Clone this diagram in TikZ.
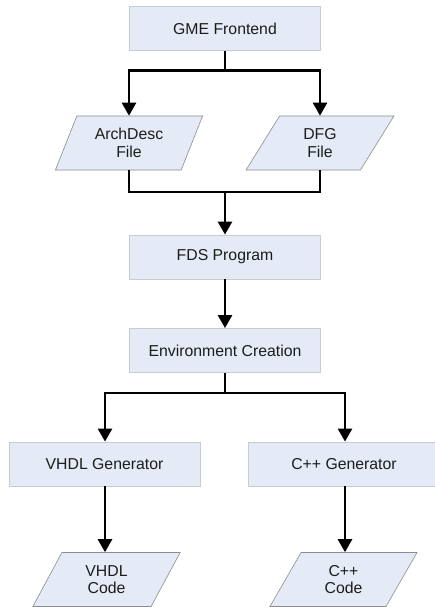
\documentclass[tikz,border=0pt]{standalone}
\usepackage{fontspec}
\setmainfont{Liberation Sans}
\usetikzlibrary{arrows.meta,shapes.geometric}
\definecolor{boxfill}{HTML}{E4EBF6}
\definecolor{edgelight}{HTML}{C8CCD2}
\definecolor{edgedark}{HTML}{8A8C90}
\definecolor{textgray}{HTML}{1C1C1C}
\tikzset{
  procbox/.style={rectangle, fill=boxfill, draw=edgelight, line width=0.8pt,
    minimum width=191pt, minimum height=44pt, inner sep=0pt,
    font=\fontsize{15.8}{18}\selectfont, text=textgray,
    append after command={
      \pgfextra{\let\procname\tikzlastnode}
      [draw=edgedark, line width=0.9pt]
      (\procname.south west) -- (\procname.south east) -- (\procname.north east)
    }},
  datafile/.style={trapezium, trapezium left angle=64.3, trapezium right angle=115.7,
    trapezium stretches=true, fill=boxfill, draw=edgedark, line width=0.6pt,
    minimum width=148pt, minimum height=54pt, inner sep=0pt,
    align=center, font=\fontsize{15.8}{17.5}\selectfont, text=textgray},
  flow/.style={line width=2.5pt, draw=black},
  flowarrow/.style={flow, -{Triangle[width=14pt,length=13pt]}}
}
\begin{document}
\begin{tikzpicture}[x=1pt, y=-1pt]
  \useasboundingbox (0,0) rectangle (435,607);
  \begin{scope}
    \clip (0,0) rectangle (435,607);

    % process boxes
    \node[procbox] (gme) at (225,28.5) {GME Frontend};
    \node[procbox] (fds) at (225,257) {FDS Program};
    \node[procbox] (env) at (225,350.5) {Environment Creation};
    \node[procbox] (vgen) at (104.5,464) {VHDL Generator};
    \node[procbox] (cgen) at (344,464) {C++ Generator};

    % data files
    \node[datafile] (arch) at (129,143) {ArchDesc\\File};
    \node[datafile] (dfg) at (320,143) {DFG\\File};
    \node[datafile] (vcode) at (106.5,579.5) {VHDL\\Code};
    \node[datafile] (ccode) at (343.5,579.5) {C++\\Code};

    % junction points
    \coordinate (split1) at (225,70.5);
    \coordinate (join1) at (225,192);
    \coordinate (split2) at (225,393);

    % frontend fans out to the two description files
    \draw[flow] (gme.south) -- (split1);
    \draw[flowarrow] (split1) -| (arch.north -| 129,0);
    \draw[flowarrow] (split1) -| (dfg.north -| 320,0);

    % files merge into the FDS program
    \draw[flow] (arch.south -| 129,0) |- (join1);
    \draw[flow] (dfg.south -| 320,0) |- (join1);
    \draw[flowarrow] (join1) -- (fds.north);

    \draw[flowarrow] (fds.south) -- (env.north);

    % environment fans out to the two generators
    \draw[flow] (env.south) -- (split2);
    \draw[flowarrow] (split2) -| (vgen.north -| 105,0);
    \draw[flowarrow] (split2) -| (cgen.north -| 345,0);

    % generators emit code
    \draw[flowarrow] (vgen.south -| 105,0) -- (vcode.north -| 105,0);
    \draw[flowarrow] (cgen.south -| 345,0) -- (ccode.north -| 345,0);
  \end{scope}
\end{tikzpicture}
\end{document}
